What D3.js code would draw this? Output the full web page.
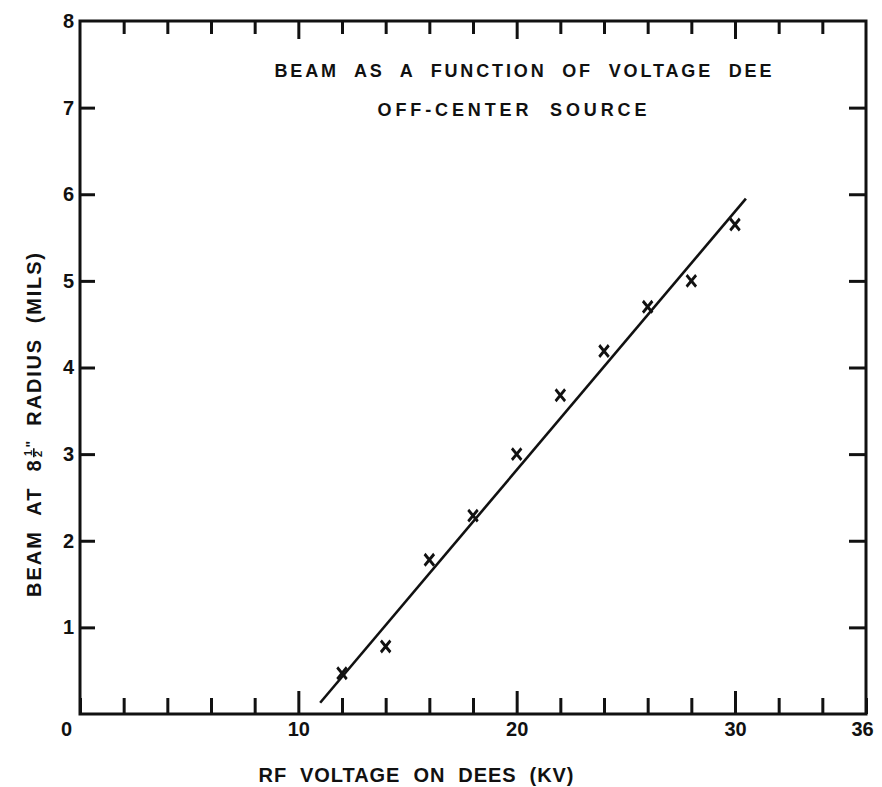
<!DOCTYPE html>
<html>
<head>
<meta charset="utf-8">
<script src="https://cdn.jsdelivr.net/npm/d3@7"></script>
<style>
  html, body { margin: 0; padding: 0; background: #fff; }
  svg { display: block; }
  text { font-family: "Liberation Sans", Arial, sans-serif; font-weight: bold; fill: #111; }
</style>
</head>
<body>
<svg id="chart" width="882" height="787"></svg>
<script>
// measured points (RF volts on dees vs beam at 8 1/2" radius)
const voltage = [12, 14, 16, 18, 20, 22, 24, 26, 28, 30];
const beam = [0.47, 0.78, 1.78, 2.29, 3.0, 3.68, 4.19, 4.7, 5.0, 5.65];

// hand-drawn fit line, its two ends
const fitVoltage = [11.0, 30.5];
const fitBeam = [0.13, 5.95];

const xTicks = [0, 2, 4, 6, 8, 10, 12, 14, 16, 18, 20, 22, 24, 26, 28, 30, 32, 34, 36];
const xLabels = [0, 10, 20, 30, 36];
const xMajor = [10, 20, 30];
const yTicks = [1, 2, 3, 4, 5, 6, 7];
const yLabels = [1, 2, 3, 4, 5, 6, 7, 8];

const titleLines = ["BEAM  AS  A  FUNCTION  OF  VOLTAGE  DEE", "OFF-CENTER  SOURCE"];
const xTitle = "RF  VOLTAGE  ON  DEES  (KV)";

const svg = d3.select("#chart");
const margin = { top: 21, right: 16, bottom: 73, left: 80 };
const width = +svg.attr("width") - margin.left - margin.right;
const height = +svg.attr("height") - margin.top - margin.bottom;

const x = d3.scaleLinear().domain([0, 36]).range([margin.left, margin.left + width]);
const y = d3.scaleLinear().domain([0, 8]).range([margin.top + height, margin.top]);

const ink = "#111";

// frame
svg.append("rect")
  .attr("x", x(0))
  .attr("y", y(8))
  .attr("width", x(36) - x(0))
  .attr("height", y(0) - y(8))
  .attr("fill", "none")
  .attr("stroke", ink)
  .attr("stroke-width", 3);

// bottom axis, ticks pointing in
const axBottom = svg.append("g")
  .attr("transform", `translate(0,${y(0)})`)
  .call(d3.axisBottom(x).tickValues(xTicks).tickSizeOuter(0).tickSizeInner(-16).tickPadding(8)
    .tickFormat((d) => (xLabels.includes(d) ? d : "")));
axBottom.select(".domain").remove();
axBottom.selectAll(".tick line")
  .attr("stroke", ink)
  .attr("stroke-width", 3)
  .attr("y2", (d) => (xMajor.includes(d) ? -23 : -16));
axBottom.selectAll(".tick text")
  .attr("font-size", 20)
  .attr("fill", ink)
  .attr("dx", (d) => (d === 0 ? -14 : d === 36 ? -4 : 0));

// top axis
const axTop = svg.append("g")
  .attr("transform", `translate(0,${y(8)})`)
  .call(d3.axisTop(x).tickValues(xTicks.slice(1, -1)).tickSizeOuter(0).tickSizeInner(-13).tickFormat(""));
axTop.select(".domain").remove();
axTop.selectAll(".tick line")
  .attr("stroke", ink)
  .attr("stroke-width", 3)
  .attr("y2", (d) => (xMajor.includes(d) ? 18 : 13));

// left axis
const axLeft = svg.append("g")
  .attr("transform", `translate(${x(0)},0)`)
  .call(d3.axisLeft(y).tickValues(yLabels).tickSizeOuter(0).tickSizeInner(-15).tickPadding(6));
axLeft.select(".domain").remove();
axLeft.selectAll(".tick line")
  .attr("stroke", ink)
  .attr("stroke-width", 3)
  .attr("x2", (d) => (d === 8 ? 0 : 15));
axLeft.selectAll(".tick text")
  .attr("font-size", 20)
  .attr("fill", ink);

// right axis
const axRight = svg.append("g")
  .attr("transform", `translate(${x(36)},0)`)
  .call(d3.axisRight(y).tickValues(yTicks).tickSizeOuter(0).tickSizeInner(-17).tickFormat(""));
axRight.select(".domain").remove();
axRight.selectAll(".tick line").attr("stroke", ink).attr("stroke-width", 3);

// fit line
const fit = fitVoltage.map((v, i) => [v, fitBeam[i]]);
svg.append("path")
  .datum(fit)
  .attr("d", d3.line().x((d) => x(d[0])).y((d) => y(d[1])))
  .attr("fill", "none")
  .attr("stroke", ink)
  .attr("stroke-width", 2.6);

// data marks
svg.selectAll(".pt")
  .data(voltage.map((v, i) => ({ v, b: beam[i] })))
  .enter()
  .append("path")
  .attr("class", "pt")
  .attr("transform", (d) => `translate(${x(d.v)},${y(d.b)}) scale(0.9,1.1)`)
  .attr("d", d3.symbol().type(d3.symbolTimes).size(75))
  .attr("fill", "none")
  .attr("stroke", ink)
  .attr("stroke-width", 3);

// title inside plot
const titleX = [523, 512];
const titleY = [77, 116];
const titleW = [497, 269];
svg.selectAll(".title")
  .data(titleLines)
  .enter()
  .append("text")
  .attr("class", "title")
  .attr("x", (d, i) => titleX[i])
  .attr("y", (d, i) => titleY[i])
  .attr("text-anchor", "middle")
  .attr("font-size", 18)
  .attr("textLength", (d, i) => titleW[i])
  .attr("lengthAdjust", "spacing")
  .style("white-space", "pre")
  .text((d) => d);

// x axis title
svg.append("text")
  .attr("x", 416)
  .attr("y", 782)
  .attr("text-anchor", "middle")
  .attr("font-size", 20)
  .attr("textLength", 315)
  .attr("lengthAdjust", "spacing")
  .style("white-space", "pre")
  .text(xTitle);

// y axis title with stacked 1/2
const yt = svg.append("g").attr("transform", "translate(41,425) rotate(-90)");
const inner = yt.append("g");
const fs = 20;
const yTitleLen = 344;
const fracW = 20;
const part1 = inner.append("text")
  .attr("font-size", fs)
  .style("white-space", "pre")
  .text("BEAM  AT  8");
const part2 = inner.append("text")
  .attr("font-size", fs)
  .style("white-space", "pre")
  .text("  RADIUS  (MILS)");
const w1 = part1.node().getComputedTextLength();
const w2 = part2.node().getComputedTextLength();
const k = (yTitleLen - fracW) / (w1 + w2);
part1.attr("textLength", w1 * k).attr("lengthAdjust", "spacing");
part2.attr("textLength", w2 * k).attr("lengthAdjust", "spacing").attr("x", w1 * k + fracW);
const fx = w1 * k + 3;
inner.append("text").attr("x", fx + 1.5).attr("y", -9).attr("font-size", 11).text("1");
inner.append("line").attr("x1", fx).attr("x2", fx + 9).attr("y1", -7.2).attr("y2", -7.2)
  .attr("stroke", ink).attr("stroke-width", 1.6);
inner.append("text").attr("x", fx + 0.5).attr("y", 1).attr("font-size", 11).text("2");
inner.append("text").attr("x", fx + 10).attr("y", -5).attr("font-size", 14).text("\"");
inner.attr("transform", `translate(${-yTitleLen / 2},0)`);
</script>
</body>
</html>
